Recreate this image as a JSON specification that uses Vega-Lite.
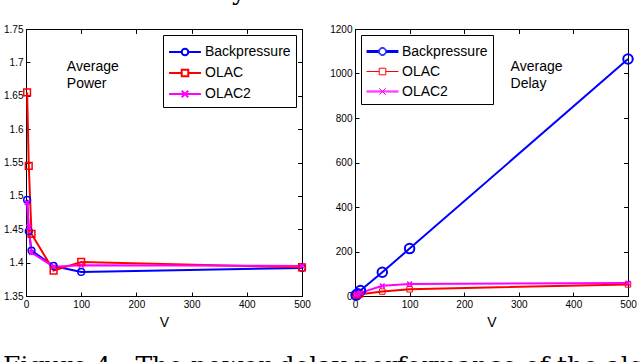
{
  "$schema": "https://vega.github.io/schema/vega-lite/v6.json",
  "padding": {"left": 3, "top": -20, "right": 5, "bottom": 0},
  "datasets": {
    "power": [
      {"V": 2, "series": "Backpressure", "value": 1.494},
      {"V": 5, "series": "Backpressure", "value": 1.447},
      {"V": 10, "series": "Backpressure", "value": 1.418},
      {"V": 50, "series": "Backpressure", "value": 1.395},
      {"V": 100, "series": "Backpressure", "value": 1.386},
      {"V": 500, "series": "Backpressure", "value": 1.392},
      {"V": 2, "series": "OLAC", "value": 1.655},
      {"V": 5, "series": "OLAC", "value": 1.545},
      {"V": 10, "series": "OLAC", "value": 1.443},
      {"V": 50, "series": "OLAC", "value": 1.388},
      {"V": 100, "series": "OLAC", "value": 1.401},
      {"V": 500, "series": "OLAC", "value": 1.393},
      {"V": 2, "series": "OLAC2", "value": 1.49},
      {"V": 5, "series": "OLAC2", "value": 1.453},
      {"V": 10, "series": "OLAC2", "value": 1.415},
      {"V": 50, "series": "OLAC2", "value": 1.394},
      {"V": 100, "series": "OLAC2", "value": 1.396},
      {"V": 500, "series": "OLAC2", "value": 1.395}
    ],
    "delay": [
      {"V": 2, "series": "Backpressure", "value": 4},
      {"V": 5, "series": "Backpressure", "value": 10},
      {"V": 10, "series": "Backpressure", "value": 25},
      {"V": 50, "series": "Backpressure", "value": 107},
      {"V": 100, "series": "Backpressure", "value": 213},
      {"V": 500, "series": "Backpressure", "value": 1065},
      {"V": 2, "series": "OLAC", "value": 2},
      {"V": 5, "series": "OLAC", "value": 4},
      {"V": 10, "series": "OLAC", "value": 8},
      {"V": 50, "series": "OLAC", "value": 20},
      {"V": 100, "series": "OLAC", "value": 30},
      {"V": 500, "series": "OLAC", "value": 52},
      {"V": 2, "series": "OLAC2", "value": 3},
      {"V": 5, "series": "OLAC2", "value": 8},
      {"V": 10, "series": "OLAC2", "value": 14},
      {"V": 50, "series": "OLAC2", "value": 46},
      {"V": 100, "series": "OLAC2", "value": 54},
      {"V": 500, "series": "OLAC2", "value": 58}
    ],
    "labelsP": [{"V": 74, "value": 1.703, "text": "Average\nPower"}],
    "labelsD": [{"V": 285, "value": 1060, "text": "Average\nDelay"}]
  },
  "title": {
    "text": "Figure 4: \u00a0The power-delay performance of the algorithms",
    "orient": "bottom",
    "anchor": "start",
    "font": "DejaVu Serif",
    "fontSize": 25,
    "fontWeight": "normal",
    "color": "black",
    "offset": 24
  },
  "vconcat": [
    {
      "title": {
        "text": "much smaller delay.",
        "orient": "top",
        "anchor": "start",
        "font": "DejaVu Serif",
        "fontSize": 24.5,
        "fontWeight": "normal",
        "color": "black",
        "offset": 18
      },
      "spacing": 18,
      "hconcat": [
        {
          "width": 276,
          "height": 267,
          "layer": [
            {
              "data": {"name": "power"},
              "mark": {"type": "line"},
              "encoding": {
                "x": {"field": "V", "type": "quantitative", "scale": {"domain": [0, 500]},
                      "axis": {"values": [0, 100, 200, 300, 400, 500], "title": "V"}},
                "y": {"field": "value", "type": "quantitative", "scale": {"domain": [1.35, 1.75]},
                      "axis": {"values": [1.35, 1.4, 1.45, 1.5, 1.55, 1.6, 1.65, 1.7, 1.75], "format": ".2~f", "title": null}},
                "color": {"field": "series", "type": "nominal",
                  "scale": {"domain": ["Backpressure", "OLAC", "OLAC2"], "range": ["#0000ff", "#ff0000", "#ff00ff"]},
                  "legend": {
                    "title": null, "orient": "top-right", "offset": 6, "padding": 5,
                    "strokeColor": "black", "fillColor": "white",
                    "labelFontSize": 14, "labelFont": "Liberation Sans", "labelColor": "black",
                    "symbolSize": 484, "symbolOffset": 5, "labelOffset": 8, "rowPadding": 1,
                    "encode": {"symbols": {"update": {
                      "shape": {"signal": "datum.value === 'Backpressure' ? 'M-1.45,0H-0.3M0.3,0H1.45M-0.3,0A0.3,0.3 0 1,1 0.3,0A0.3,0.3 0 1,1 -0.3,0' : datum.value === 'OLAC' ? 'M-1.45,0H-0.3M0.3,0H1.45M-0.3,-0.3H0.3V0.3H-0.3Z' : 'M-1.45,0H1.45M-0.3,-0.3L0.3,0.3M0.3,-0.3L-0.3,0.3'"},
                      "fill": {"value": "transparent"},
                      "strokeWidth": {"value": 2}
                    }}}
                  }},
                "strokeWidth": {"field": "series", "type": "nominal",
                  "scale": {"domain": ["Backpressure", "OLAC", "OLAC2"], "range": [2, 2, 2]}, "legend": null}
              }
            },
            {
              "data": {"name": "power"},
              "mark": {"type": "point", "filled": false, "strokeWidth": 1.5, "size": 45, "opacity": 1},
              "encoding": {
                "x": {"field": "V", "type": "quantitative"},
                "y": {"field": "value", "type": "quantitative"},
                "color": {"field": "series", "type": "nominal", "legend": null},
                "shape": {"field": "series", "type": "nominal",
                  "scale": {"domain": ["Backpressure", "OLAC", "OLAC2"], "range": ["circle", "square", "M-0.7,-0.7L0.7,0.7M0.7,-0.7L-0.7,0.7"]}, "legend": null}
              }
            },
            {
              "data": {"name": "labelsP"},
              "mark": {"type": "text", "align": "left", "baseline": "top", "fontSize": 14, "lineHeight": 17, "lineBreak": "\n", "font": "Liberation Sans", "color": "black"},
              "encoding": {
                "x": {"field": "V", "type": "quantitative"},
                "y": {"field": "value", "type": "quantitative"},
                "text": {"field": "text", "type": "nominal"}
              }
            },
            {
              "data": {"name": "power"},
              "mark": {"type": "point", "opacity": 0},
              "encoding": {
                "x": {"field": "V", "type": "quantitative", "title": "",
                      "axis": {"orient": "top", "labels": false, "title": null, "values": [0, 100, 200, 300, 400, 500]}},
                "y": {"field": "value", "type": "quantitative", "title": "",
                      "axis": {"orient": "right", "labels": false, "title": null, "values": [1.35, 1.4, 1.45, 1.5, 1.55, 1.6, 1.65, 1.7, 1.75]}}
              }
            }
          ],
          "resolve": {"axis": {"x": "independent", "y": "independent"}}
        },
        {
          "width": 273,
          "height": 267,
          "layer": [
            {
              "data": {"name": "delay"},
              "mark": {"type": "line"},
              "encoding": {
                "x": {"field": "V", "type": "quantitative", "scale": {"domain": [0, 500]},
                      "axis": {"values": [0, 100, 200, 300, 400, 500], "title": "V"}},
                "y": {"field": "value", "type": "quantitative", "scale": {"domain": [0, 1200]},
                      "axis": {"values": [0, 200, 400, 600, 800, 1000, 1200], "format": "d", "title": null}},
                "color": {"field": "series", "type": "nominal",
                  "scale": {"domain": ["Backpressure", "OLAC", "OLAC2"], "range": ["#0000ff", "#ff0000", "#ff00ff"]},
                  "legend": {
                    "title": null, "orient": "top-left", "offset": 6, "padding": 5,
                    "strokeColor": "black", "fillColor": "white",
                    "labelFontSize": 14, "labelFont": "Liberation Sans", "labelColor": "black",
                    "symbolSize": 484, "symbolOffset": 5, "labelOffset": 8, "rowPadding": 1,
                    "encode": {"symbols": {"update": {
                      "shape": {"signal": "datum.value === 'Backpressure' ? 'M-1.45,-0.09H-0.36M0.36,-0.09H1.45M-1.45,0H-0.36M0.36,0H1.45M-1.45,0.09H-0.36M0.36,0.09H1.45M-0.36,0A0.36,0.36 0 1,1 0.36,0A0.36,0.36 0 1,1 -0.36,0M-0.28,0A0.28,0.28 0 1,1 0.28,0A0.28,0.28 0 1,1 -0.28,0' : datum.value === 'OLAC' ? 'M-1.45,0H-0.3M0.3,0H1.45M-0.3,-0.3H0.3V0.3H-0.3Z' : 'M-1.45,-0.045H1.45M-1.45,0.045H1.45M-0.3,-0.3L0.3,0.3M0.3,-0.3L-0.3,0.3'"},
                      "fill": {"value": "transparent"},
                      "strokeWidth": {"value": 1}
                    }}}
                  }},
                "strokeWidth": {"field": "series", "type": "nominal",
                  "scale": {"domain": ["Backpressure", "OLAC", "OLAC2"], "range": [3, 1, 2]}, "legend": null}
              }
            },
            {
              "data": {"name": "delay"},
              "transform": [{"filter": "datum.series === 'Backpressure'"}],
              "mark": {"type": "point", "filled": false, "opacity": 1, "shape": "circle", "size": 90, "strokeWidth": 2, "color": "#0000ff"},
              "encoding": {
                "x": {"field": "V", "type": "quantitative"},
                "y": {"field": "value", "type": "quantitative"}
              }
            },
            {
              "data": {"name": "delay"},
              "transform": [{"filter": "datum.series === 'OLAC'"}],
              "mark": {"type": "point", "filled": false, "opacity": 1, "shape": "square", "size": 30, "strokeWidth": 1, "color": "#ff0000"},
              "encoding": {
                "x": {"field": "V", "type": "quantitative"},
                "y": {"field": "value", "type": "quantitative"}
              }
            },
            {
              "data": {"name": "delay"},
              "transform": [{"filter": "datum.series === 'OLAC2'"}],
              "mark": {"type": "point", "filled": false, "opacity": 1, "shape": "M-0.7,-0.7L0.7,0.7M0.7,-0.7L-0.7,0.7", "size": 45, "strokeWidth": 1.5, "color": "#ff00ff"},
              "encoding": {
                "x": {"field": "V", "type": "quantitative"},
                "y": {"field": "value", "type": "quantitative"}
              }
            },
            {
              "data": {"name": "labelsD"},
              "mark": {"type": "text", "align": "left", "baseline": "top", "fontSize": 14, "lineHeight": 17, "lineBreak": "\n", "font": "Liberation Sans", "color": "black"},
              "encoding": {
                "x": {"field": "V", "type": "quantitative"},
                "y": {"field": "value", "type": "quantitative"},
                "text": {"field": "text", "type": "nominal"}
              }
            },
            {
              "data": {"name": "delay"},
              "mark": {"type": "point", "opacity": 0},
              "encoding": {
                "x": {"field": "V", "type": "quantitative", "title": "",
                      "axis": {"orient": "top", "labels": false, "title": null, "values": [0, 100, 200, 300, 400, 500]}},
                "y": {"field": "value", "type": "quantitative", "title": "",
                      "axis": {"orient": "right", "labels": false, "title": null, "values": [0, 200, 400, 600, 800, 1000, 1200]}}
              }
            }
          ],
          "resolve": {"axis": {"x": "independent", "y": "independent"}}
        }
      ]
    }
  ],
  "config": {
    "font": "Liberation Sans",
    "view": {"stroke": "black", "strokeWidth": 1},
    "axis": {
      "domain": false, "grid": false,
      "tickColor": "black", "tickSize": -4, "tickWidth": 1,
      "labelColor": "black", "labelFont": "Liberation Sans", "labelFontSize": 10,
      "labelPadding": 7, "labelFlush": false, "labelOverlap": false,
      "titleFont": "Liberation Sans", "titleFontSize": 14, "titleFontWeight": "normal", "titleColor": "black", "titlePadding": 6
    },
    "axisTop": {"labels": false, "titleOpacity": 0, "titleFontSize": 1, "titlePadding": 0},
    "axisRight": {"labels": false, "titleOpacity": 0, "titleFontSize": 1, "titlePadding": 0}
  }
}
